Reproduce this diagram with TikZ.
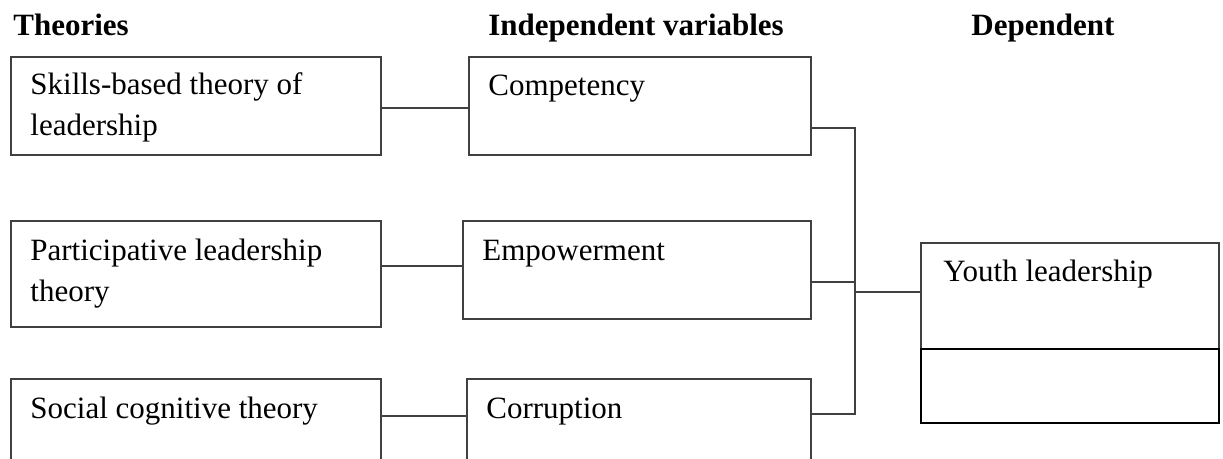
\documentclass[tikz,border=0pt]{standalone}
\usepackage{fontspec}
\setmainfont{Liberation Serif}
\begin{document}
\begin{tikzpicture}[x=0.5pt, y=-0.5pt,
  box/.style={draw=black!75, line width=0.9pt, anchor=north west, inner sep=0},
  txt/.style={anchor=north west, inner sep=0, align=left, font=\fontsize{15.5}{20.5}\selectfont},
  head/.style={txt, font=\fontsize{15.5}{20.5}\selectfont\bfseries},
  link/.style={draw=black!75, line width=0.9pt}]
\useasboundingbox (0,0) rectangle (1223,459);
\clip (0,0) rectangle (1223,459);
% column heads
\node[head] (hth) at (13,6.3) {\strut Theories};
\node[head] (hind) at (488,6.3) {\strut Independent variables};
\node[head] (hdep) at (971,6.3) {\strut Dependent};
% boxes
\node[box, minimum width=185pt, minimum height=49pt] (skills) at (10,56) {};
\node[box, minimum width=171pt, minimum height=49pt] (comp) at (468,56) {};
\node[box, minimum width=185pt, minimum height=53pt] (part) at (10,220) {};
\node[box, minimum width=174pt, minimum height=49pt] (emp) at (462,220) {};
\node[box, minimum width=185pt, minimum height=55pt] (social) at (10,378) {};
\node[box, minimum width=172pt, minimum height=55pt] (corr) at (466,378) {};
\node[box, minimum width=149pt, minimum height=53pt] (youth) at (920,242) {};
\node[box, draw=black, line width=1.2pt, minimum width=149pt, minimum height=37pt] (youthlow) at (920,348) {};
% texts
\node[txt] (skillsT) at (30,65.3) {\strut Skills-based theory of\\leadership};
\node[txt] (compT) at (488,66.3) {\strut Competency};
\node[txt] (partT) at (30,231.3) {\strut Participative leadership\\theory};
\node[txt] (empT) at (482,231.3) {\strut Empowerment};
\node[txt] (socialT) at (30,389.3) {\strut Social cognitive theory};
\node[txt] (corrT) at (486,389.3) {\strut Corruption};
\node[txt] (youthT) at (943,252.3) {\strut Youth leadership};
% links
\coordinate (r1) at (0,108);
\coordinate (r2) at (0,266);
\coordinate (r3) at (0,416);
\coordinate (j1) at (855,128);
\coordinate (j2) at (855,282);
\coordinate (j3) at (855,414);
\coordinate (jy) at (855,292);
\draw[link] (skills.east |- r1) -- (comp.west |- r1);
\draw[link] (part.east |- r2) -- (emp.west |- r2);
\draw[link] (social.east |- r3) -- (corr.west |- r3);
\draw[link] (comp.east |- j1) -- (j1) -- (j3) -- (corr.east |- j3);
\draw[link] (emp.east |- j2) -- (j2);
\draw[link] (jy) -- (youth.west |- jy);
\end{tikzpicture}
\end{document}
